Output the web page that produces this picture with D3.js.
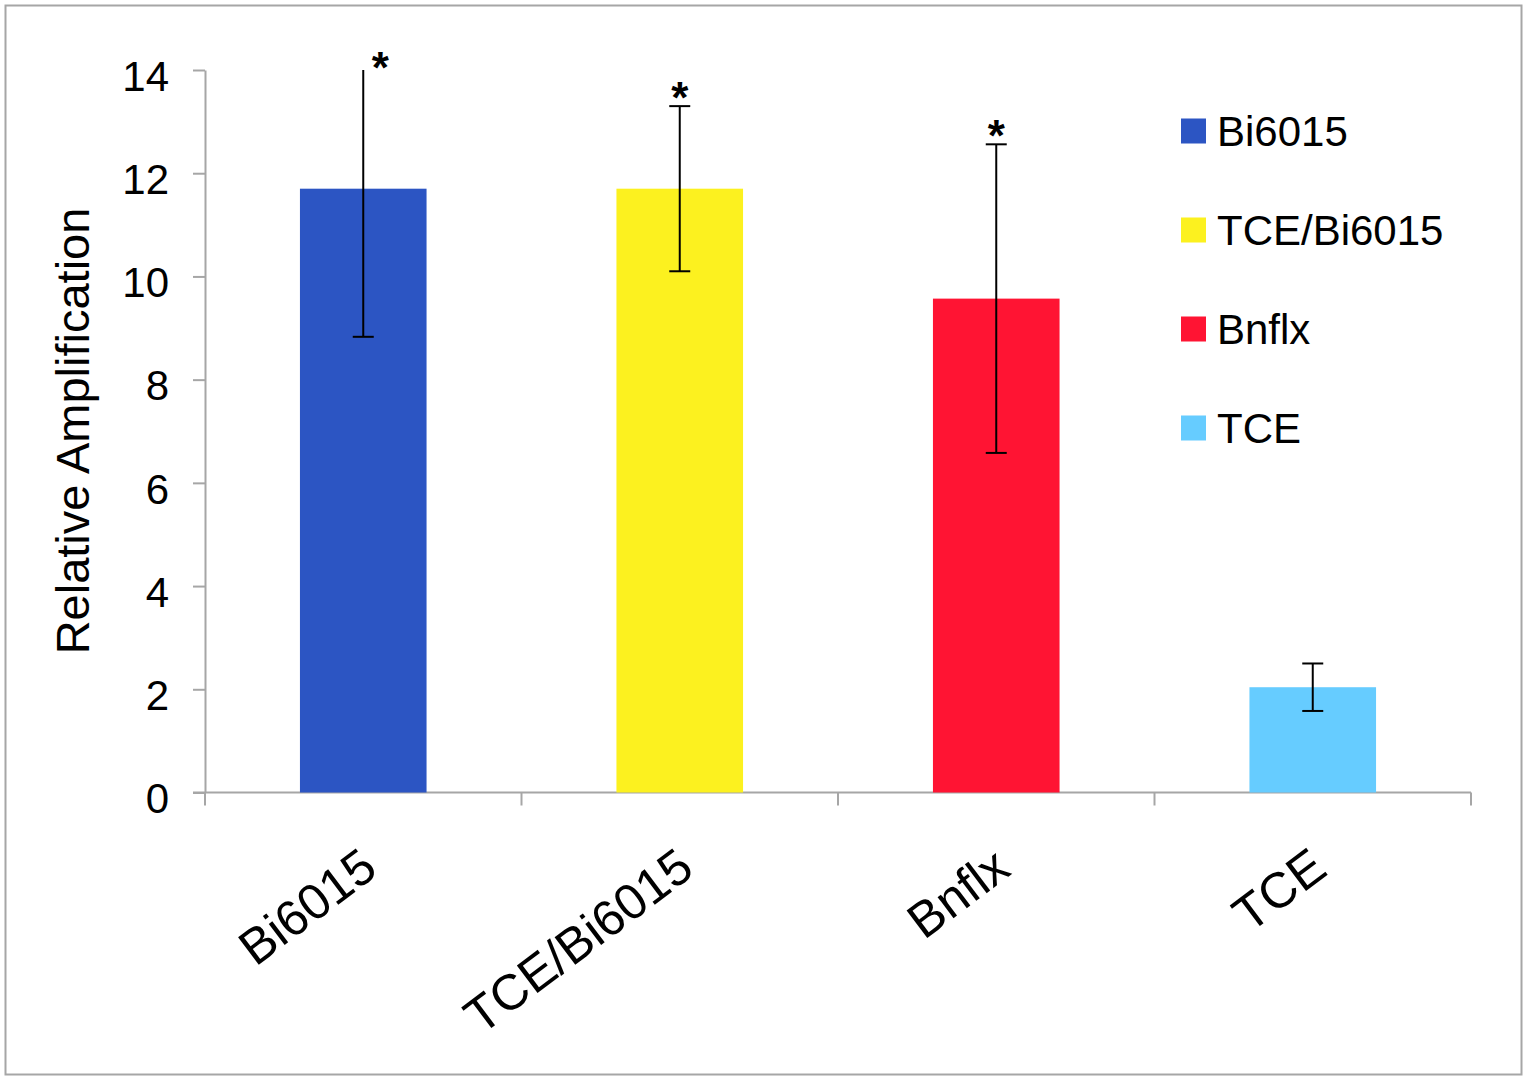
<!DOCTYPE html>
<html>
<head>
<meta charset="utf-8" />
<title>Relative Amplification</title>
<style>
  html, body { margin: 0; background: #fff; }
  svg { display: block; font-family: "Liberation Sans", Arial, sans-serif; }
  .axis path, .axis line { stroke: #a6a6a6; stroke-width: 2px; }
  .axis text { fill: #000; font-size: 42px; }
</style>
</head>
<body>
<div id="container"></div>
<script src="https://cdn.jsdelivr.net/npm/d3@7"></script>
<script>
// data
var categories = ["Bi6015", "TCE/Bi6015", "Bnflx", "TCE"];
var values = [11.7, 11.7, 9.57, 2.04];
var errors = [2.87, 1.6, 2.99, 0.46];
var significant = [true, true, true, false];
var colors = ["#2c55c3", "#fcf11f", "#ff1433", "#66ccff"];
var yTicks = [0, 2, 4, 6, 8, 10, 12, 14];

var width = 1529, height = 1080;
var margin = { top: 70, right: 58, bottom: 287.5, left: 205 };
var innerW = width - margin.left - margin.right,
    innerH = height - margin.top - margin.bottom;

var svg = d3.select("#container").append("svg")
    .attr("width", width)
    .attr("height", height);

// outer frame
svg.append("rect")
    .attr("x", 5.5).attr("y", 5.5)
    .attr("width", 1516).attr("height", 1069)
    .attr("fill", "none")
    .attr("stroke", "#a6a6a6")
    .attr("stroke-width", 2);

var g = svg.append("g")
    .attr("transform", "translate(" + margin.left + "," + margin.top + ")");

var x = d3.scaleBand()
    .domain(categories)
    .range([0, innerW])
    .paddingInner(0.6)
    .paddingOuter(0.3);

var y = d3.scaleLinear()
    .domain([0, 14])
    .range([innerH, 0]);

// y axis
var yAxis = g.append("g")
    .attr("class", "axis")
    .call(d3.axisLeft(y).tickValues(yTicks).tickSize(12).tickSizeOuter(0).tickPadding(24));
yAxis.selectAll("text").attr("dy", "0.48em");

// x axis: line with ticks at category boundaries
var step = x.step();
var bounds = d3.range(categories.length + 1).map(function(i) { return i * step; });
var xAxis = g.append("g")
    .attr("class", "axis")
    .attr("transform", "translate(0," + innerH + ")");
xAxis.append("line")
    .attr("x1", -12).attr("x2", innerW)
    .attr("y1", 0).attr("y2", 0);
xAxis.selectAll(".btick")
    .data(bounds)
  .enter().append("line")
    .attr("class", "btick")
    .attr("x1", function(d) { return d; })
    .attr("x2", function(d) { return d; })
    .attr("y1", 0).attr("y2", 13);

// bars
g.selectAll(".bar")
    .data(categories)
  .enter().append("rect")
    .attr("class", "bar")
    .attr("x", function(d) { return x(d); })
    .attr("y", function(d, i) { return y(values[i]); })
    .attr("width", x.bandwidth())
    .attr("height", function(d, i) { return innerH - y(values[i]); })
    .attr("fill", function(d, i) { return colors[i]; });

// error bars (clipped at the axis maximum, no cap when clipped)
var ymax = y.domain()[1];
var capW = 10.5;
var eb = g.selectAll(".err")
    .data(categories)
  .enter().append("g")
    .attr("class", "err")
    .attr("stroke", "#000")
    .attr("stroke-width", 2);
eb.append("line")
    .attr("x1", function(d) { return x(d) + x.bandwidth() / 2; })
    .attr("x2", function(d) { return x(d) + x.bandwidth() / 2; })
    .attr("y1", function(d, i) { return y(Math.min(ymax, values[i] + errors[i])); })
    .attr("y2", function(d, i) { return y(values[i] - errors[i]); });
eb.append("line")
    .attr("x1", function(d) { return x(d) + x.bandwidth() / 2 - capW; })
    .attr("x2", function(d) { return x(d) + x.bandwidth() / 2 + capW; })
    .attr("y1", function(d, i) { return y(values[i] - errors[i]); })
    .attr("y2", function(d, i) { return y(values[i] - errors[i]); });
eb.filter(function(d, i) { return values[i] + errors[i] <= ymax; })
  .append("line")
    .attr("x1", function(d) { return x(d) + x.bandwidth() / 2 - capW; })
    .attr("x2", function(d) { return x(d) + x.bandwidth() / 2 + capW; })
    .attr("y1", function(d) { var i = categories.indexOf(d); return y(values[i] + errors[i]); })
    .attr("y2", function(d) { var i = categories.indexOf(d); return y(values[i] + errors[i]); });

// significance stars
g.selectAll(".star")
    .data(categories.filter(function(d, i) { return significant[i]; }))
  .enter().append("text")
    .attr("class", "star")
    .attr("x", function(d) {
      var i = categories.indexOf(d);
      var clipped = values[i] + errors[i] > ymax;
      return x(d) + x.bandwidth() / 2 + (clipped ? 17 : 0);
    })
    .attr("y", function(d) {
      var i = categories.indexOf(d);
      var top = y(Math.min(ymax, values[i] + errors[i]));
      var clipped = values[i] + errors[i] > ymax;
      return top + (clipped ? 13 : 7);
    })
    .attr("text-anchor", "middle")
    .attr("font-size", 44)
    .attr("font-weight", "bold")
    .text("*");

// rotated category labels
g.selectAll(".xlabel")
    .data(categories)
  .enter().append("text")
    .attr("class", "xlabel")
    .attr("transform", function(d) {
      return "translate(" + (x(d) + x.bandwidth() / 2 + 6) + "," + (innerH + 67) + ") rotate(-37)";
    })
    .attr("text-anchor", "end")
    .attr("dy", "0.35em")
    .attr("font-size", 50)
    .text(function(d) { return d; });

// y axis title
svg.append("text")
    .attr("transform", "translate(89,431) rotate(-90)")
    .attr("text-anchor", "middle")
    .attr("font-size", 47)
    .text("Relative Amplification");

// legend
var legend = svg.append("g")
    .attr("transform", "translate(1181,131)");
var item = legend.selectAll(".item")
    .data(categories)
  .enter().append("g")
    .attr("class", "item")
    .attr("transform", function(d, i) { return "translate(0," + (i * 99) + ")"; });
item.append("rect")
    .attr("x", 0).attr("y", -12.5)
    .attr("width", 25).attr("height", 25)
    .attr("fill", function(d, i) { return colors[i]; });
item.append("text")
    .attr("x", 36)
    .attr("dy", "0.36em")
    .attr("font-size", 42)
    .text(function(d) { return d; });
</script>
</body>
</html>
